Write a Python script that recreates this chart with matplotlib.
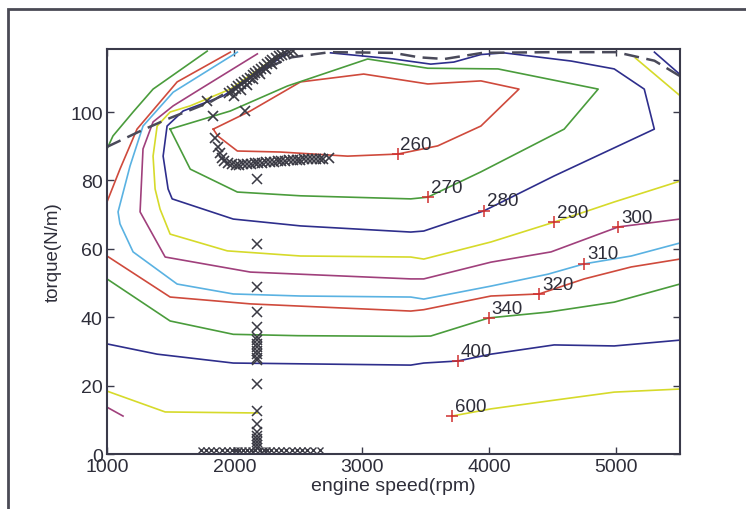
import numpy as np
import matplotlib
matplotlib.use('Agg')
import matplotlib.pyplot as plt
from matplotlib.patches import Rectangle

plt.rcParams['font.family'] = ['Liberation Sans', 'DejaVu Sans']

# bsfc contour lines, each point is (rpm, torque)
c260 = [(1835, 95), (2126, 100.3), (2520, 108.8), (3016, 111.1), (3520, 108.2),
        (3937, 109.1), (4236, 106.7), (3937, 95.9), (3598, 90.1), (3283, 87.7),
        (2890, 87.1), (2362, 88.3), (2024, 88.6), (1870, 93), (1835, 95)]
c270 = [(1496, 95), (1969, 100.3), (2417, 107.6), (3047, 115.5), (3520, 112.8),
        (4071, 112.6), (4858, 106.7), (4591, 95), (3937, 82.5), (3520, 75.1),
        (3386, 74.6), (2520, 75.5), (2024, 76.6), (1654, 83.3), (1496, 95)]
c280 = [(2417, 117.2), (1913, 104.7), (1598, 100.3), (1472, 95.9), (1441, 87.1),
        (1480, 77.5), (1512, 74.6), (1992, 68.7), (2520, 66.7), (3386, 64.9),
        (3488, 65.2), (3961, 71.1), (4512, 81.3), (5299, 95), (5220, 106.7),
        (4984, 112.6), (4646, 114.9), (4118, 117.3), (3937, 116.8), (3724, 114.6),
        (3543, 114.0), (3252, 115.5), (2756, 117.3)]
c280_corner = [(5300, 117.5), (5500, 111)]
c290 = [(2362, 117), (1969, 106.7), (1654, 101.8), (1496, 100), (1394, 95.9),
        (1362, 87.1), (1378, 77.5), (1417, 71.6), (1496, 64.3), (1945, 59.4),
        (2520, 57.9), (3386, 57.6), (3488, 57.0), (4016, 62), (4512, 67.8),
        (4984, 73.7), (5500, 79.8)]
c290_corner = [(5150, 115.8), (5500, 104.8)]
c300 = [(2181, 117), (1732, 106.7), (1520, 101.8), (1362, 97.1), (1283, 89.2),
        (1260, 70.8), (1457, 57.6), (2126, 53.2), (3386, 51.2), (3488, 51.2),
        (4016, 56.1), (4488, 59.1), (5016, 66.4), (5500, 68.7)]
c310 = [(2024, 117.5), (1520, 105.8), (1283, 95.9), (1181, 84.2), (1087, 70.8),
        (1102, 67.3), (1205, 59.1), (1551, 49.7), (1992, 46.8), (2520, 46.2),
        (3386, 45.9), (3488, 45.3), (4016, 49.1), (4465, 52.6), (4748, 55.6),
        (5118, 57.9), (5500, 61.7)]
c320_top = [(1969, 117.5), (1551, 108.8), (1236, 95), (1102, 83.3), (1000, 73.7)]
c320 = [(1000, 57.9), (1496, 45.9), (2126, 43.9), (3386, 41.8), (3488, 42.2),
        (4016, 46.2), (4394, 46.8), (4748, 51.2), (5118, 54.7), (5500, 57)]
c340_top = [(1787, 117.8), (1362, 106.7), (1205, 100), (1047, 93), (1000, 89.2)]
c340 = [(1000, 51.2), (1496, 38.9), (1992, 35.0), (2500, 34.6), (3386, 34.4),
        (3543, 34.5), (4000, 39.8), (4465, 41.5), (4984, 44.4), (5500, 49.7)]
c400 = [(1000, 32.2), (1394, 29.2), (1992, 26.6), (3386, 26.0), (3488, 26.6),
        (3756, 27.2), (4016, 29.2), (4512, 31.9), (4984, 31.6), (5500, 33.3)]
c600_left = [(1000, 18.4), (1457, 12.3), (2181, 12.0)]
c600 = [(3709, 11.1), (4016, 13.2), (4465, 15.5), (4984, 18.1), (5500, 19.0)]
c800 = [(1000, 13.7), (1126, 11.1)]

# full load torque line
max_rpm = [1000, 1260, 1472, 1677, 1811, 2000, 2200, 2450, 2750, 3250, 3450,
           3650, 3950, 4500, 5000, 5300, 5500]
max_tq = [89.8, 94.4, 97.9, 100.9, 102.9, 107, 112, 116, 117.5, 117.3, 116,
          115.5, 117.3, 117.5, 117.5, 115, 110.5]

# contour labels
lab_text = ['260', '270', '280', '290', '300', '310', '320', '340', '400', '600']
lab_rpm = [3283, 3520, 3961, 4512, 5016, 4748, 4394, 4000, 3756, 3709]
lab_tq = [87.7, 75.1, 71.1, 67.8, 66.4, 55.6, 46.8, 39.8, 27.2, 11.1]

# optimal operating points (x markers)
col_tq = [80.4, 61.4, 48.8, 41.5, 37.1, 34.2, 33.2, 32.2, 31.2, 30.2, 29.2,
          28.2, 27.4, 20.5, 12.6, 8.8, 6.4, 5.3, 4.4, 3.5, 2.6, 1.8]
col_rpm = [2181] * len(col_tq)
bot_rpm = [1740, 1780, 1820, 1860, 1900, 1940, 1980, 2010, 2040, 2070, 2100,
           2130, 2160, 2200, 2230, 2260, 2290, 2330, 2370, 2410, 2450, 2490,
           2530, 2570, 2620, 2670]
bot_tq = [1.2] * len(bot_rpm)
diag_rpm = [1787, 1835, 2087, 1960, 1985, 2010, 2030, 2055, 2075, 2100, 2120,
            2145, 2165, 2190, 2210, 2235, 2255, 2280, 2300, 2325, 2350, 2375,
            2400, 2430, 2460, 2000, 2050, 2100, 2150, 2200, 2250, 2300]
diag_tq = [103.2, 98.8, 100.3, 105.5, 106.2, 106.8, 107.5, 108.1, 108.8, 109.5,
           110.0, 110.8, 111.4, 112.0, 112.7, 113.3, 113.9, 114.5, 115.1, 115.7,
           116.3, 116.8, 117.2, 117.6, 117.8, 104.8, 106.5, 108.0, 109.6, 111.0,
           112.6, 114.0]
band_rpm = [1850, 1870, 1890, 1900, 1920, 1950, 1980, 2010, 2040, 2070, 2100,
            2130, 2160, 2190, 2220, 2250, 2280, 2310, 2340, 2370, 2400, 2430,
            2460, 2490, 2520, 2550, 2580, 2610, 2640, 2670, 2700, 2740]
band_tq = [92.5, 89.8, 88.0, 86.5, 85.6, 85.0, 84.7, 84.6, 84.6, 84.7, 84.8,
           84.9, 85.0, 85.1, 85.2, 85.3, 85.4, 85.5, 85.6, 85.7, 85.8, 85.9,
           86.0, 86.1, 86.1, 86.2, 86.2, 86.3, 86.3, 86.4, 86.4, 86.5]

red = '#cf4a3c'
green = '#4a9c3c'
blue = '#2e2e8c'
yellow = '#d6da2a'
magenta = '#a0407c'
cyan = '#5ab2e2'

lines = [(c260, red), (c270, green), (c280, blue), (c280_corner, blue),
         (c290, yellow), (c290_corner, yellow), (c300, magenta), (c310, cyan),
         (c320_top, red), (c320, red), (c340_top, green), (c340, green),
         (c400, blue), (c600_left, yellow), (c600, yellow), (c800, magenta)]

fig = plt.figure(figsize=(7.46, 5.10), dpi=100)
ax = fig.add_axes([0.1434, 0.1078, 0.768, 0.794])

for pts, col in lines:
    p = np.array(pts)
    ax.plot(p[:, 0], p[:, 1], color=col, lw=1.2)

ax.plot(max_rpm, max_tq, color='#4a4a5a', lw=1.8, ls=(0, (6, 3)))

xc = '#3a3a44'
ax.plot(col_rpm, col_tq, 'x', color=xc, ms=7, mew=1.1)
ax.plot(bot_rpm, bot_tq, 'x', color=xc, ms=5, mew=1.0)
ax.plot(diag_rpm, diag_tq, 'x', color=xc, ms=7, mew=1.2)
ax.plot(band_rpm, band_tq, 'x', color=xc, ms=7, mew=1.2)

ax.plot(lab_rpm, lab_tq, '+', color='#d03030', ms=8, mew=1.1)
for t, x, y in zip(lab_text, lab_rpm, lab_tq):
    ax.annotate(t, (x, y), xytext=(2, 1), textcoords='offset points',
                ha='left', va='bottom', fontsize=13.5, color='#2e2e3a')

ax.set_xlim(1000, 5500)
ax.set_ylim(0, 118.4)
ax.set_xticks([1000, 2000, 3000, 4000, 5000])
ax.set_yticks([0, 20, 40, 60, 80, 100])
ax.tick_params(direction='in', top=True, right=True, length=5, width=1,
               color='#3a3a4a', labelcolor='#2e2e3a', labelsize=14, pad=3)
for s in ax.spines.values():
    s.set_color('#3a3a4a')
    s.set_linewidth(1.5)
ax.set_xlabel('engine speed(rpm)', fontsize=14, color='#2e2e3a', labelpad=1)
ax.set_ylabel('torque(N/m)', fontsize=13.5, color='#2e2e3a', labelpad=6)

# outer frame of the scanned figure
fig.patches.append(Rectangle((8 / 746, -0.1), 1.2, 1.1 - 10 / 510,
                             transform=fig.transFigure, fill=False,
                             edgecolor='#4a4a55', lw=2))

fig.savefig('out.png', dpi=100)
